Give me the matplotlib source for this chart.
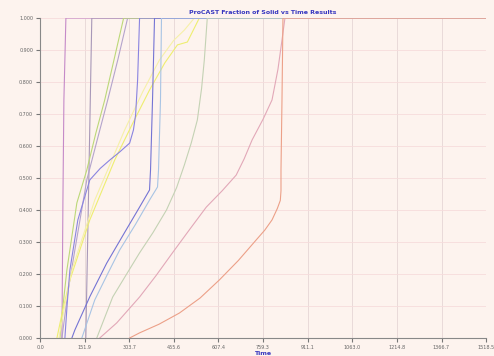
import matplotlib
matplotlib.use("Agg")
import matplotlib.pyplot as plt

title = "ProCAST Fraction of Solid vs Time Results"
x_label = "Time"
x_max = 1518.5
x_ticks = [0.0, 151.9, 303.7, 455.6, 607.4, 759.3, 911.1, 1063.0, 1214.8, 1366.7, 1518.5]
y_ticks = [0.0, 0.1, 0.2, 0.3, 0.4, 0.5, 0.6, 0.7, 0.8, 0.9, 1.0]

t1 = [74.6, 78.0, 81.3, 88.1]
f1 = [0.0, 0.431, 0.744, 1.0]
t2 = [155.9, 166.1, 176.3]
f2 = [0.0, 0.494, 1.0]
t3 = [74.6, 96.0, 118.6, 159.3, 195.0, 230.5, 265.0, 298.3]
f3 = [0.0, 0.15, 0.275, 0.494, 0.62, 0.744, 0.87, 1.0]
t4 = [67.8, 78.0, 91.5, 125.4, 159.3, 190.0, 220.3, 252.0, 284.7]
f4 = [0.0, 0.1, 0.2125, 0.422, 0.525, 0.64, 0.744, 0.87, 1.0]
t5 = [57.6, 78.0, 101.7, 169.5, 254.2, 315.0, 372.8, 425.0, 467.8, 501.6, 542.3]
f5 = [0.0, 0.09, 0.181, 0.369, 0.556, 0.67, 0.775, 0.86, 0.916, 0.925, 1.0]
t6 = [64.4, 84.0, 108.5, 186.4, 288.1, 350.0, 406.7, 455.0, 491.5, 525.4]
f6 = [0.0, 0.1, 0.2125, 0.431, 0.65, 0.77, 0.869, 0.93, 0.9625, 1.0]
t7 = [84.7, 92.0, 101.7, 128.8, 169.5, 205.0, 237.3, 272.0, 305.1, 318.0, 325.4, 332.2, 338.9]
f7 = [0.0, 0.1, 0.2125, 0.369, 0.494, 0.53, 0.556, 0.582, 0.609, 0.65, 0.697, 0.806, 1.0]
t8 = [108.5, 118.6, 170.0, 227.1, 285.0, 338.9, 372.8, 376.2, 383.0, 389.8]
f8 = [0.0, 0.025, 0.13, 0.234, 0.325, 0.409, 0.4625, 0.525, 0.744, 1.0]
t9 = [142.4, 186.4, 230.0, 271.2, 325.0, 372.8, 400.0, 403.4, 410.1, 413.5]
f9 = [0.0, 0.119, 0.2, 0.275, 0.355, 0.431, 0.472, 0.525, 0.744, 1.0]
t10 = [193.2, 247.4, 295.0, 338.9, 385.0, 430.5, 465.0, 491.5, 515.0, 535.5, 550.0, 559.3, 569.4]
f10 = [0.0, 0.128, 0.2, 0.266, 0.33, 0.4, 0.47, 0.541, 0.61, 0.681, 0.78, 0.869, 1.0]
t11 = [203.4, 261.0, 338.9, 395.0, 450.8, 510.0, 566.0, 620.0, 667.7, 695.0, 722.0, 760.0, 789.8, 810.0, 823.7, 833.8]
f11 = [0.0, 0.047, 0.128, 0.195, 0.266, 0.34, 0.409, 0.46, 0.509, 0.56, 0.619, 0.685, 0.744, 0.84, 0.931, 1.0]
t12 = [305.1, 338.9, 405.0, 474.5, 545.0, 610.1, 675.0, 735.5, 765.0, 789.8, 808.0, 818.0, 820.3, 820.3, 823.7, 827.0]
f12 = [0.0, 0.016, 0.043, 0.078, 0.125, 0.181, 0.242, 0.306, 0.337, 0.369, 0.405, 0.43, 0.46, 0.525, 0.744, 1.0]

series = [
    (t1, f1, "#c58ac8"),
    (t2, f2, "#a898b8"),
    (t3, f3, "#b4a4cc"),
    (t4, f4, "#bcd878"),
    (t5, f5, "#eeee70"),
    (t6, f6, "#f6f0a8"),
    (t7, f7, "#8a84e0"),
    (t8, f8, "#7474d4"),
    (t9, f9, "#a8c4e4"),
    (t10, f10, "#c4d2b4"),
    (t11, f11, "#e2a8b8"),
    (t12, f12, "#eca088"),
]

bg = "#fdf3ee"
fig = plt.figure(figsize=(4.94, 3.56), dpi=100, facecolor=bg)
ax = fig.add_axes([0.081, 0.0506, 0.903, 0.8988], facecolor=bg)

for tx, fx, col in series:
    ax.plot(list(tx) + [x_max], list(fx) + [1.0], color=col, lw=0.8)

ax.set_xlim(0, x_max)
ax.set_ylim(0, 1.0)
ax.set_xticks(x_ticks)
ax.set_xticklabels([f"{v:.1f}" for v in x_ticks], fontsize=3.5, color="#666666")
ax.set_yticks(y_ticks)
ax.set_yticklabels([f"{v:.3f}" for v in y_ticks], fontsize=3.5, color="#666666")
ax.tick_params(axis="both", length=3, width=0.8, color="#777777", pad=2)
ax.xaxis.grid(True, color="#e6d6d6", lw=0.6)
ax.yaxis.grid(True, color="#f6dcdc", lw=0.6)
ax.set_axisbelow(True)
for s in ["top", "right"]:
    ax.spines[s].set_visible(False)
for s in ["left", "bottom"]:
    ax.spines[s].set_color("#888888")
    ax.spines[s].set_linewidth(0.8)

ax.set_title(title, fontsize=4.5, color="#3838c0", pad=3, fontweight="bold")
ax.set_xlabel(x_label, fontsize=4.5, color="#3838c0", labelpad=1, fontweight="bold")

fig.savefig("out.png", dpi=100, facecolor=bg)
